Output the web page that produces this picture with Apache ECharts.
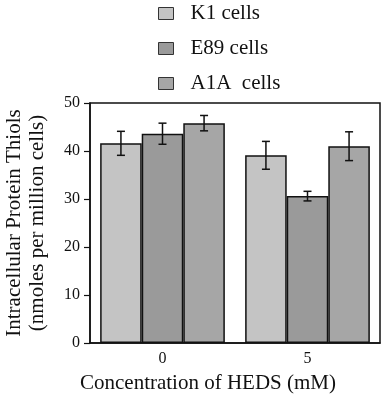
<!DOCTYPE html>
<html><head><meta charset="utf-8">
<script src="https://cdn.jsdelivr.net/npm/echarts@6/dist/echarts.min.js"></script>
<style>html,body{margin:0;padding:0;background:#fff}#c{width:384px;height:398px}</style>
</head><body><div id="c"></div>
<script>
var categories = ['0', '5'];
var seriesNames = ['K1 cells', 'E89 cells', 'A1A  cells'];
var k1 = [41.6, 39.1];
var e89 = [43.6, 30.6];
var a1a = [45.8, 41.0];
var k1Err = [2.5, 2.9];
var e89Err = [2.2, 1.0];
var a1aErr = [1.6, 3.0];
var yTicks = [0, 10, 20, 30, 40, 50];

var colors = ['#c4c4c4', '#9a9a9a', '#a6a6a6'];
var values = [k1, e89, a1a];
var errs = [k1Err, e89Err, a1aErr];
var FONT = 'Liberation Serif';
var gapRatio = 0.14;

var chart = echarts.init(document.getElementById('c'), null, {renderer: 'canvas'});
var series = [];
values.forEach(function (v, i) {
  series.push({
    name: seriesNames[i], type: 'bar', data: v,
    barGap: '0%', barCategoryGap: (gapRatio * 100) + '%',
    itemStyle: {color: colors[i], borderColor: '#111', borderWidth: 1.5},
    z: 2
  });
});
values.forEach(function (v, i) {
  series.push({
    type: 'custom', name: 'err' + i, silent: true, z: 5,
    data: v.map(function (val, j) { return [j, val, errs[i][j]]; }),
    renderItem: function (params, api) {
      var c = api.value(0), val = api.value(1), e = api.value(2);
      var bw = api.size([1, 0])[0] * (1 - gapRatio) / 3;
      var p = api.coord([c, val]);
      var x = p[0] + (i - 1) * bw;
      var hi = api.coord([c, val + e])[1];
      var lo = api.coord([c, val - e])[1];
      var hw = 4;
      var st = {stroke: '#111', lineWidth: 1.5};
      return {type: 'group', children: [
        {type: 'line', shape: {x1: x, y1: hi, x2: x, y2: lo}, style: st},
        {type: 'line', shape: {x1: x - hw, y1: hi, x2: x + hw, y2: hi}, style: st},
        {type: 'line', shape: {x1: x - hw, y1: lo, x2: x + hw, y2: lo}, style: st}
      ]};
    }
  });
});

chart.setOption({
  animation: false,
  backgroundColor: '#fff',
  legend: {
    data: seriesNames, orient: 'vertical', left: 153, top: -2,
    itemWidth: 15, itemHeight: 12, itemGap: 14, icon: 'rect',
    itemStyle: {borderColor: '#333', borderWidth: 1},
    textStyle: {fontFamily: FONT, fontSize: 21, color: '#111', padding: [0, 0, 0, 12]}
  },
  grid: {left: 90, right: 4, top: 103, bottom: 55, containLabel: false, outerBoundsMode: 'none',
    show: true, borderColor: '#111', borderWidth: 1.5, backgroundColor: 'transparent'},
  xAxis: {
    type: 'category', data: categories,
    axisLine: {lineStyle: {color: '#111', width: 1.5}},
    axisTick: {alignWithLabel: true, length: 5, lineStyle: {color: '#111', width: 1.2}},
    axisLabel: {fontFamily: FONT, fontSize: 16, color: '#111', margin: 8},
    name: 'Concentration of HEDS (mM)', nameLocation: 'middle', nameGap: 30,
    nameTextStyle: {fontFamily: FONT, fontSize: 21, color: '#111', padding: [0, 54, 0, 0]}
  },
  yAxis: {
    type: 'value', min: yTicks[0], max: yTicks[yTicks.length - 1], interval: 10,
    splitLine: {show: false},
    axisLine: {show: true, lineStyle: {color: '#111', width: 1.5}},
    axisTick: {show: true, length: 6, lineStyle: {color: '#111', width: 1.2}},
    axisLabel: {fontFamily: FONT, fontSize: 16, color: '#111', margin: 10},
    name: 'Intracellular Protein Thiols\n(nmoles per million cells)', nameLocation: 'middle', nameGap: 41,
    nameTextStyle: {fontFamily: FONT, fontSize: 21, color: '#111', lineHeight: 23}
  },
  series: series
});
</script></body></html>
